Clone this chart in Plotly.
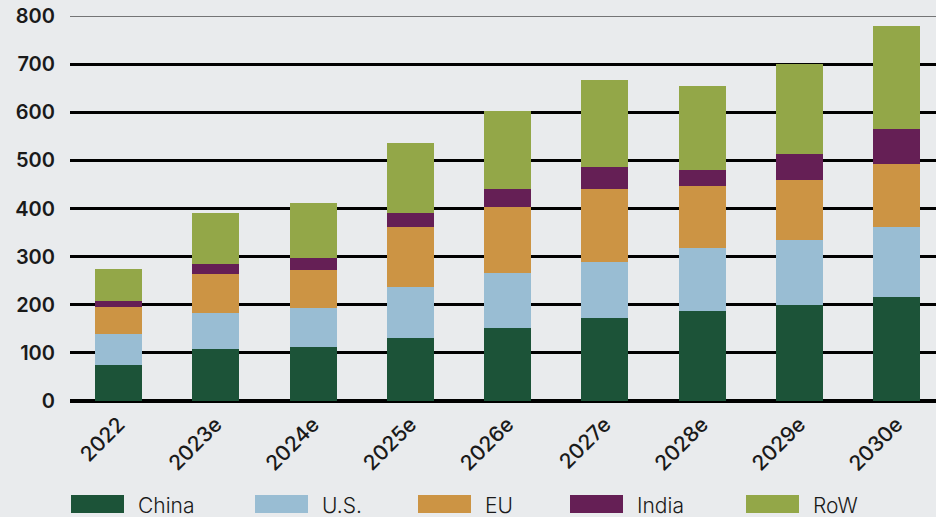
"""
Stacked bar chart – annual demand by region, 2022–2030e.
"""
import plotly.graph_objects as go

# ── data ────────────────────────────────────────────────────────────
YEARS = ["2022", "2023e", "2024e", "2025e", "2026e", "2027e", "2028e", "2029e", "2030e"]

CHINA = [75, 108, 112, 131, 152, 172, 187, 200, 216]
US    = [64, 75, 82, 106, 114, 117, 131, 135, 146]
EU    = [56, 81, 78, 125, 137, 151, 129, 124, 131]
INDIA = [13, 21, 25, 29, 37, 46, 33, 54, 72]
ROW   = [66, 106, 114, 145, 162, 181, 174, 187, 214]

SERIES = ["China", "U.S.", "EU", "India", "RoW"]
Y_MAX = 800

# ── palette ─────────────────────────────────────────────────────────
COLORS = {
    "China": "#1C5338",
    "U.S.":  "#99BDD3",
    "EU":    "#CC9444",
    "India": "#651F55",
    "RoW":   "#93A748",
    "bg":    "#E9EBED",
    "text":  "#1A1A1A",
}

W, H = 936, 517
M_L, M_R, M_T, M_B = 70, 0, 16, 116
PLOT_W = W - M_L - M_R
PLOT_H = H - M_T - M_B
STEP = 97.25  # px per category


def px_x(px):
    return (px - M_L) / PLOT_W


def px_y(py):
    return (H - M_B - py) / PLOT_H


fig = go.Figure()
for name, vals in zip(SERIES, [CHINA, US, EU, INDIA, ROW]):
    fig.add_trace(go.Bar(
        x=YEARS, y=vals, name=name,
        marker=dict(color=COLORS[name], line=dict(width=0)),
        width=0.483,
        showlegend=False,
        hovertemplate="%{x}<br>" + name + ": %{y}<extra></extra>",
    ))

# thin top gridline (the one at the edge of the plot area)
fig.add_shape(type="line", xref="paper", yref="y", x0=0, x1=1, y0=Y_MAX, y1=Y_MAX,
              line=dict(color="#000000", width=1.2), layer="below")

# ── hand-drawn legend (big swatches) ────────────────────────────────
LEGEND_X = [71, 255, 418, 570, 746]
for name, x0 in zip(SERIES, LEGEND_X):
    fig.add_shape(type="rect", xref="paper", yref="paper",
                  x0=px_x(x0), x1=px_x(x0 + 53), y0=px_y(513), y1=px_y(495),
                  fillcolor=COLORS[name], line=dict(width=0), layer="above")
    fig.add_annotation(xref="paper", yref="paper", x=px_x(x0 + 65), y=px_y(505),
                       text=name, showarrow=False, xanchor="left", yanchor="middle",
                       font=dict(family="Inter, sans-serif", size=21, weight=300,
                                 color=COLORS["text"]))

fig.update_layout(
    width=W, height=H,
    paper_bgcolor=COLORS["bg"],
    plot_bgcolor=COLORS["bg"],
    barmode="stack",
    margin=dict(l=M_L, r=M_R, t=M_T, b=M_B, autoexpand=False),
    font=dict(family="Inter, sans-serif", color=COLORS["text"], size=20),
    xaxis=dict(
        type="category",
        range=[-0.5, -0.5 + PLOT_W / STEP],
        tickangle=-45,
        showgrid=False,
        tickfont=dict(size=21, weight=500),
        ticks="",
        ticklabelstandoff=6,
    ),
    yaxis=dict(
        range=[0, Y_MAX],
        dtick=100,
        gridcolor="#000000",
        gridwidth=2.5,
        zeroline=True,
        zerolinecolor="#000000",
        zerolinewidth=4,
        ticks="",
        ticklabelstandoff=14,
        tickfont=dict(size=20, weight=600),
    ),
)

fig.write_html("out.html", config={"displayModeBar": False},
               post_script="document.body.style.margin='0';")
